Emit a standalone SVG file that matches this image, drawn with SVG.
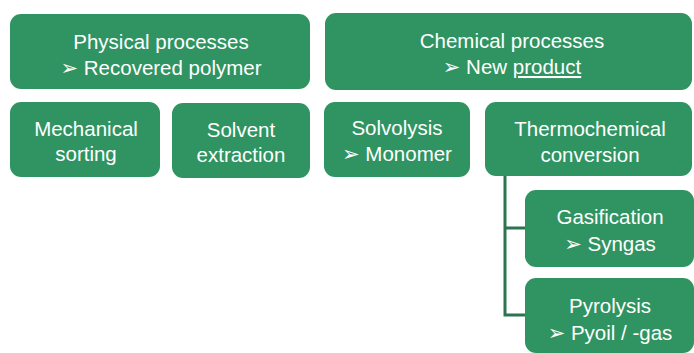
<svg xmlns="http://www.w3.org/2000/svg" width="694" height="353" viewBox="0 0 694 353">
<style>
.box{fill:#2f9461;}
.t{fill:#ffffff;font-family:"Liberation Sans",Arial,sans-serif;font-size:20.5px;text-anchor:middle;}
.b{font-family:"DejaVu Sans",sans-serif;font-size:21px;}
.conn{stroke:#2a7550;stroke-width:3;fill:none;}
</style>
<rect width="694" height="353" fill="#ffffff"/>
<g id="connectors">
<path class="conn" d="M505,175 V315 H527 M505,228 H527"/>
</g>
<g id="physical">
<rect class="box" x="10" y="14" width="300" height="75" rx="11"/>
<text class="t" x="161" y="49">Physical processes</text>
<text class="t" x="161" y="75"><tspan class="b">➢</tspan>  Recovered polymer</text>
</g>
<g id="chemical">
<rect class="box" x="325" y="13" width="367" height="77" rx="11"/>
<text class="t" x="512" y="48">Chemical processes</text>
<text class="t" x="512" y="74"><tspan class="b">➢</tspan>  New <tspan text-decoration="underline">product</tspan></text>
</g>
<g id="mechanical">
<rect class="box" x="10" y="102" width="150" height="75" rx="11"/>
<text class="t" x="86" y="136">Mechanical</text>
<text class="t" x="86" y="161">sorting</text>
</g>
<g id="solvent">
<rect class="box" x="172" y="103" width="138" height="75" rx="11"/>
<text class="t" x="241" y="137">Solvent</text>
<text class="t" x="241" y="162">extraction</text>
</g>
<g id="solvolysis">
<rect class="box" x="324" y="102" width="146" height="75" rx="11"/>
<text class="t" x="397" y="135">Solvolysis</text>
<text class="t" x="397" y="161"><tspan class="b">➢</tspan>  Monomer</text>
</g>
<g id="thermochemical">
<rect class="box" x="485" y="102" width="207" height="74" rx="11"/>
<text class="t" x="590" y="136">Thermochemical</text>
<text class="t" x="590" y="162">conversion</text>
</g>
<g id="gasification">
<rect class="box" x="525" y="190" width="169" height="77" rx="11"/>
<text class="t" x="610" y="224">Gasification</text>
<text class="t" x="610" y="251"><tspan class="b">➢</tspan>  Syngas</text>
</g>
<g id="pyrolysis">
<rect class="box" x="525" y="278" width="169" height="75" rx="11"/>
<text class="t" x="610" y="313">Pyrolysis</text>
<text class="t" x="610" y="340"><tspan class="b">➢</tspan>  Pyoil / -gas</text>
</g>
</svg>
